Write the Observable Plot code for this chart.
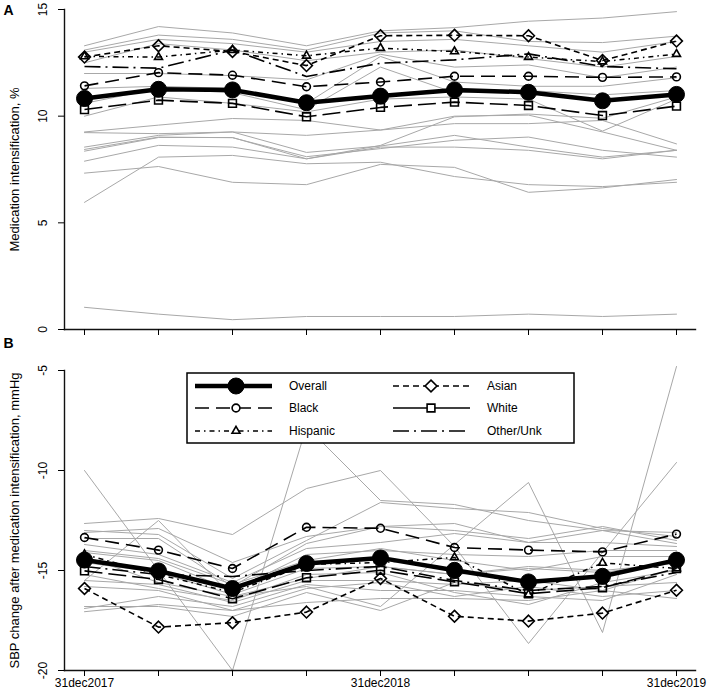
<!DOCTYPE html>
<html>
<head>
<meta charset="utf-8">
<script src="https://cdn.jsdelivr.net/npm/d3@7"></script>
<script src="https://cdn.jsdelivr.net/npm/@observablehq/plot@0.6"></script>
<style>
  body { margin: 0; background: #fff; }
  #chart { position: relative; width: 709px; height: 695px; font-family: "Liberation Sans", Arial, Helvetica, sans-serif; }
  #chart svg { position: absolute; left: 0; overflow: visible; }
</style>
</head>
<body>
<div id="chart"></div>
<script>
// ---------- data ----------
const periods = ["31dec2017", "31mar2018", "30jun2018", "30sep2018", "31dec2018", "31mar2019", "30jun2019", "30sep2019", "31dec2019"];
const labeledPeriods = ["31dec2017", "31dec2018", "31dec2019"];
const groups = ["Overall", "Black", "Hispanic", "Asian", "White", "Other/Unk"];

// Panel A: medication intensification, %
const intensOverall  = [10.83, 11.26, 11.23, 10.63, 10.94, 11.23, 11.12, 10.72, 11.02];
const intensBlack    = [11.42, 12.04, 11.92, 11.38, 11.60, 11.87, 11.87, 11.82, 11.84];
const intensHispanic = [12.80, 12.77, 13.10, 12.83, 13.19, 13.03, 12.77, 12.56, 12.91];
const intensAsian    = [12.77, 13.30, 13.03, 12.37, 13.77, 13.79, 13.77, 12.61, 13.52];
const intensWhite    = [10.31, 10.75, 10.60, 9.97, 10.41, 10.66, 10.50, 10.03, 10.47];
const intensOther    = [12.33, 12.25, 13.10, 11.86, 12.48, 12.64, 12.92, 12.33, 12.22];

const sitesIntensification = [
  [13.3, 14.2, 13.9, 13.3, 14.0, 14.15, 14.45, 14.6, 14.9],
  [13.1, 13.8, 13.6, 13.1, 13.9, 14.0, 13.5, 13.45, 13.75],
  [13.0, 13.6, 13.4, 13.0, 13.5, 13.6, 13.3, 13.0, 13.5],
  [12.5, 13.4, 13.1, 12.6, 13.0, 13.1, 12.7, 12.3, 12.8],
  [12.0, 12.0, 11.9, 11.7, 12.9, 12.3, 12.4, 11.8, 12.3],
  [11.3, 11.4, 11.3, 10.6, 12.8, 11.6, 11.4, 11.4, 11.8],
  [10.6, 11.3, 11.1, 10.3, 12.3, 11.1, 11.2, 11.0, 11.2],
  [10.0, 10.9, 10.6, 10.2, 10.8, 10.9, 10.8, 9.3, 10.8],
  [9.26, 9.58, 9.89, 9.8, 9.35, 9.65, 9.65, 9.8, 8.7],
  [9.23, 9.18, 9.26, 9.1, 9.35, 10.0, 10.05, 9.26, 8.4],
  [8.55, 9.1, 9.26, 8.3, 8.6, 9.1, 8.55, 8.08, 8.4],
  [8.44, 9.02, 8.99, 8.1, 8.48, 8.87, 9.02, 8.4, 8.08],
  [8.36, 9.0, 9.0, 8.0, 8.55, 8.55, 8.4, 8.0, 8.4],
  [7.89, 8.63, 8.55, 8.0, 8.63, 9.97, 10.1, 9.9, 10.9],
  [7.33, 7.64, 6.9, 6.79, 7.74, 7.6, 6.43, 6.64, 7.03],
  [5.96, 8.08, 8.16, 7.77, 7.84, 7.17, 6.79, 6.7, 6.9],
  [1.04, 0.72, 0.46, 0.61, 0.61, 0.61, 0.72, 0.61, 0.72]
];

// Panel B: SBP change after medication intensification, mmHg
const sbpOverall  = [-14.48, -15.02, -15.90, -14.65, -14.37, -14.99, -15.57, -15.29, -14.48];
const sbpBlack    = [-13.35, -13.98, -14.90, -12.84, -12.89, -13.85, -13.98, -14.07, -13.18];
const sbpHispanic = [-14.20, -15.20, -16.10, -14.70, -14.60, -14.35, -16.20, -14.62, -14.90];
const sbpAsian    = [-15.90, -17.83, -17.61, -17.08, -15.40, -17.29, -17.53, -17.13, -15.99];
const sbpWhite    = [-15.02, -15.45, -16.41, -15.36, -14.99, -15.57, -16.16, -15.86, -14.90];
const sbpOther    = [-14.80, -15.20, -15.30, -15.00, -14.80, -15.50, -16.00, -15.80, -15.10];

const sitesSbpChange = [
  [-10.0, -15.0, -20.0, -7.8, -11.5, -11.7, -12.5, -13.0, -13.1],
  [-12.65, -12.4, -13.2, -10.9, -10.0, -13.8, -18.65, -14.1, -9.6],
  [-14.3, -15.6, -16.3, -15.8, -16.8, -13.7, -10.6, -18.1, -4.8],
  [-15.5, -12.5, -16.3, -15.4, -14.8, -15.2, -14.9, -15.1, -14.6],
  [-13.0, -13.2, -15.4, -13.5, -11.6, -11.9, -12.1, -12.9, -13.3],
  [-13.4, -13.4, -15.8, -13.65, -12.8, -12.65, -13.6, -13.0, -13.65],
  [-13.7, -14.2, -15.6, -13.9, -13.6, -13.15, -13.6, -13.6, -13.8],
  [-14.1, -14.5, -16.0, -14.2, -14.0, -14.2, -14.3, -14.0, -14.0],
  [-14.6, -15.1, -16.2, -14.9, -14.8, -15.2, -14.8, -15.0, -14.65],
  [-15.5, -15.7, -16.6, -15.5, -15.5, -15.7, -15.5, -16.0, -14.9],
  [-16.9, -16.3, -16.8, -15.7, -16.0, -16.0, -16.3, -16.5, -15.2],
  [-17.06, -16.7, -17.0, -16.6, -16.4, -16.4, -16.5, -16.0, -16.4],
  [-16.8, -16.8, -17.3, -16.1, -17.0, -15.6, -16.0, -15.8, -15.6],
  [-14.0, -14.4, -15.7, -14.5, -13.9, -14.5, -15.0, -14.3, -14.3],
  [-15.2, -15.9, -16.5, -15.2, -15.1, -16.1, -16.7, -15.6, -15.0],
  [-13.1, -12.9, -14.6, -13.3, -12.8, -13.0, -13.4, -12.8, -13.5],
  [-15.8, -16.0, -17.0, -15.9, -15.6, -16.3, -15.8, -16.3, -16.0]
];

const intensTicks = [0, 5, 10, 15];
const sbpTicks = [-20, -15, -10, -5];

// ---------- styles ----------
const styles = {
  "Overall":   {dash: null,          width: 4.5, symbol: "circle",    r: 8,   fill: "#000", mw: 1},
  "Black":     {dash: "14,7",        width: 1.6, symbol: "circle",    r: 3.9, fill: "none", mw: 1.6},
  "Hispanic":  {dash: "5,4,1.5,4",   width: 1.5, symbol: "triangle2", r: 3.8, fill: "none", mw: 1.6},
  "Asian":     {dash: "6,4",         width: 1.6, symbol: "diamond2",  r: 5.3, fill: "none", mw: 1.6},
  "White":     {dash: "18,6",        width: 1.6, symbol: "square",    r: 4.4, fill: "none", mw: 1.6},
  "Other/Unk": {dash: "16,5,2,5",    width: 1.6, symbol: null}
};
const legendStyles = {...styles, "White": {...styles["White"], dash: null}};
const drawOrder = ["Other/Unk", "White", "Hispanic", "Black", "Asian", "Overall"];

function rowsFor(values, series) {
  return values.map((v, i) => ({period: periods[i], value: v, series}));
}
function siteRows(sites) {
  return sites.flatMap((vals, s) => vals.map((v, i) => ({period: periods[i], value: v, site: s})));
}

const FONT = '"Liberation Sans", Arial, Helvetica, sans-serif';

function panel(opts) {
  const marks = [];
  marks.push(Plot.line(siteRows(opts.sites), {x: "period", y: "value", z: "site", stroke: "#a8a8a8", strokeWidth: 1}));
  for (const g of drawOrder) {
    const st = styles[g];
    const rows = rowsFor(opts.values[g], g);
    marks.push(Plot.line(rows, {
      x: "period", y: "value", stroke: "#000", strokeWidth: st.width,
      strokeDasharray: st.dash || undefined, strokeLinecap: st.dash ? "butt" : "round", strokeLinejoin: "round"
    }));
    if (st.symbol) {
      marks.push(Plot.dot(rows, {x: "period", y: "value", symbol: st.symbol, r: st.r, fill: st.fill, stroke: "#000", strokeWidth: st.mw}));
    }
  }
  marks.push(Plot.frame({anchor: "left", stroke: "#111", strokeWidth: 1.4}));
  marks.push(Plot.frame({anchor: "bottom", stroke: "#111", strokeWidth: 1.4}));
  marks.push(Plot.axisY({ticks: opts.yTicks, label: null, tickSize: 6, tickRotate: -90, tickPadding: 12, fontSize: 12, tickFormat: d => String(d)}));
  marks.push(Plot.axisX({
    ticks: periods, label: null, tickSize: 6, tickPadding: 2, fontSize: 12,
    tickFormat: d => (opts.showXLabels && labeledPeriods.includes(d)) ? d : ""
  }));
  marks.push(Plot.text([opts.title], {frameAnchor: "left", rotate: -90, textAnchor: "middle", lineAnchor: "middle", dx: -50, fontSize: 13}));
  marks.push(Plot.text([opts.letter], {frameAnchor: "top-left", textAnchor: "middle", lineAnchor: "middle", dx: -56, dy: opts.letterDy, fontSize: 14, fontWeight: "bold"}));

  return Plot.plot({
    width: 709,
    height: opts.height,
    marginLeft: 64,
    marginRight: 14,
    marginTop: opts.marginTop,
    marginBottom: opts.marginBottom,
    x: {type: "point", domain: periods, padding: 0.2416, label: null},
    y: {domain: opts.yDomain, label: null},
    style: {fontFamily: FONT, fontSize: "12px", color: "#000", background: "transparent", overflow: "visible"},
    marks
  });
}

const chart = document.getElementById("chart");

const svgA = panel({
  sites: sitesIntensification,
  values: {"Overall": intensOverall, "Black": intensBlack, "Hispanic": intensHispanic, "Asian": intensAsian, "White": intensWhite, "Other/Unk": intensOther},
  yDomain: [0, 15], yTicks: intensTicks,
  height: 340, marginTop: 9, marginBottom: 11,
  title: "Medication intensification, %", letter: "A", letterDy: 1, showXLabels: false
});
svgA.style.top = "0px";
chart.appendChild(svgA);

const svgB = panel({
  sites: sitesSbpChange,
  values: {"Overall": sbpOverall, "Black": sbpBlack, "Hispanic": sbpHispanic, "Asian": sbpAsian, "White": sbpWhite, "Other/Unk": sbpOther},
  yDomain: [-20, -5], yTicks: sbpTicks,
  height: 355, marginTop: 30, marginBottom: 25,
  title: "SBP change after medication intensification, mmHg", letter: "B", letterDy: -27, showXLabels: true
});
svgB.style.top = "340px";
chart.appendChild(svgB);

// ---------- legend (inside panel B) ----------
const legendLayout = {x: 187, y: 33, w: 387, h: 70, rows: [13, 35, 58],
  cols: [{x1: 195, x2: 272, mx: 236, tx: 289}, {x1: 393, x2: 470, mx: 431, tx: 487}]};
const legendOrder = [["Overall", "Black", "Hispanic"], ["Asian", "White", "Other/Unk"]];
const lg = d3.select(svgB).append("g").attr("text-anchor", "start");
lg.append("rect").attr("x", legendLayout.x).attr("y", legendLayout.y)
  .attr("width", legendLayout.w).attr("height", legendLayout.h)
  .attr("fill", "#fff").attr("stroke", "#000").attr("stroke-width", 1.5);
const symbolMap = {circle: d3.symbolCircle, triangle2: d3.symbolTriangle2, diamond2: d3.symbolDiamond2, square: d3.symbolSquare};
legendOrder.forEach((col, ci) => {
  const c = legendLayout.cols[ci];
  col.forEach((g, ri) => {
    const st = legendStyles[g];
    const yy = legendLayout.y + legendLayout.rows[ri];
    lg.append("line").attr("x1", c.x1).attr("x2", c.x2).attr("y1", yy).attr("y2", yy)
      .attr("stroke", "#000").attr("stroke-width", st.width)
      .attr("stroke-dasharray", st.dash || null).attr("stroke-linecap", "butt");
    if (st.symbol) {
      lg.append("path").attr("transform", `translate(${c.mx},${yy})`)
        .attr("d", d3.symbol(symbolMap[st.symbol], Math.PI * st.r * st.r)())
        .attr("fill", st.fill === "none" ? "#fff" : st.fill).attr("stroke", "#000").attr("stroke-width", st.mw);
    }
    lg.append("text").attr("x", c.tx).attr("y", yy).attr("dy", "0.35em").attr("text-anchor", "start")
      .attr("font-family", FONT).attr("font-size", 12).attr("fill", "#000").text(g);
  });
});
</script>
</body>
</html>
